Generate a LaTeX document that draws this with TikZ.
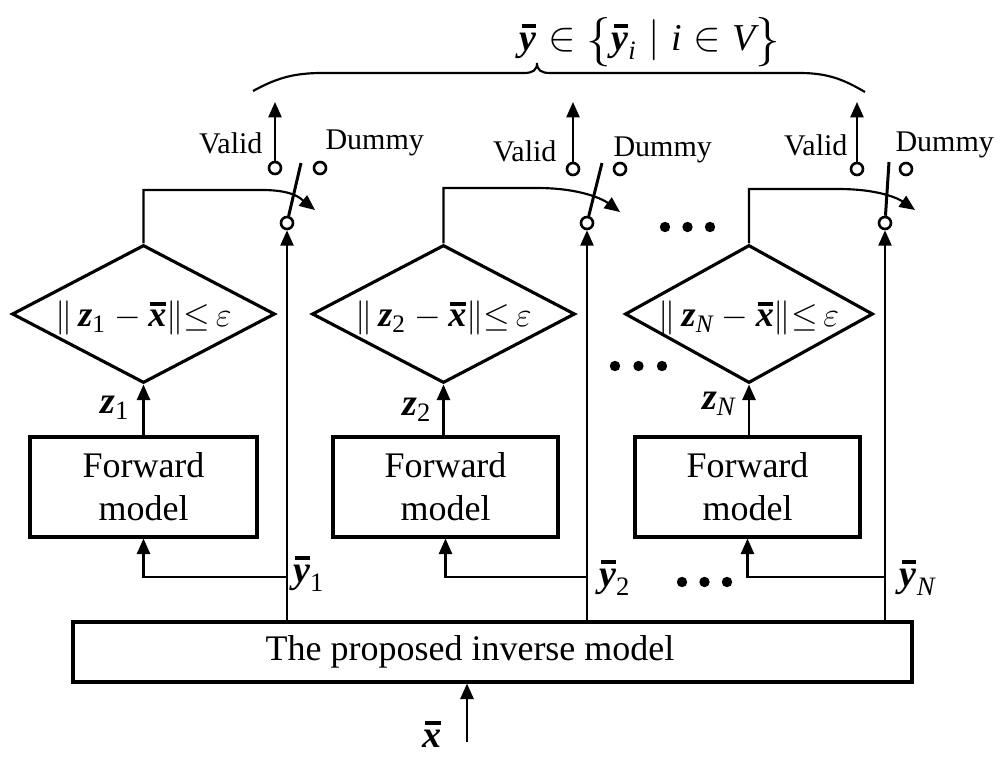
\documentclass[tikz,border=0pt]{standalone}
\usepackage{amsmath}
\usepackage{fontspec}
\setmainfont{Liberation Serif}
\usetikzlibrary{shapes.geometric,arrows.meta}

% bold italic vector letters
\newcommand\bvz{\mbox{\bfseries\itshape z}}
\newcommand\bvx{\mbox{\bfseries\itshape x}}
\newcommand\bvy{\mbox{\bfseries\itshape y}}
% thick bar over a symbol
\newcommand\barred[1]{\mathord{\setbox0=\hbox{$#1$}\vbox{\offinterlineskip\hbox to\wd0{\hskip0.12\wd0\vrule width0.85\wd0 height1.4pt depth0pt\hss}\kern1.6pt\box0}}}
% centred text of zero size, so that a diamond keeps its given size
\newcommand\zerobox[1]{\raisebox{-0.36em}[0pt][0pt]{\makebox[0pt]{#1}}}
% curly brackets a little taller than the text
\newcommand\lcb{\mathopen{\raisebox{-0.12em}{\fontsize{17}{17}\selectfont$\{$}}}
\newcommand\rcb{\mathclose{\raisebox{-0.12em}{\fontsize{17}{17}\selectfont$\}$}}}

\tikzset{
  ln/.style={line width=0.75pt},
  arr/.style={-{Triangle[length=5.4pt,width=4.6pt]}},
  fwd/.style={draw,line width=1.1pt,minimum height={100*0.35pt},align=center,
              font=\fontsize{12.6}{15}\selectfont,inner sep=0pt},
  dm/.style={draw,diamond,line width=1.1pt,minimum height={138*0.35pt},inner sep=0pt,
             font=\fontsize{12.6}{15}\selectfont},
  sw/.style={draw,circle,fill=white,line width=0.9pt,minimum size={12*0.35pt},inner sep=0pt},
  sm/.style={font=\fontsize{10.5}{12}\selectfont,inner sep=0pt},
  mt/.style={font=\fontsize{13.3}{15}\selectfont,inner sep=0pt},
  blade/.style={line width=1.05pt},
}

\begin{document}
\begin{tikzpicture}[x=0.35pt,y=-0.35pt]
\useasboundingbox (0,0) rectangle (1000,761);

% inverse model and its input
\node[draw,line width=1.1pt,minimum width={839*0.35pt},minimum height={60*0.35pt},inner sep=0pt] (inv) at (492.5,652) {};
\node[font=\fontsize{12.6}{15}\selectfont,inner sep=0pt] (invt) at (470,652) {The proposed inverse model};
\coordinate (xin) at (467,742);
\draw[ln,arr] (xin) -- (inv.south -| xin);
\node[mt] (xl) at (432,734) {$\barred{\bvx}$};

% ---------- branch 1 ----------
\node[fwd,minimum width={227*0.35pt}] (fm1) at (143.5,487) {Forward\\model};
\node[dm,minimum width={263*0.35pt}] (dm1) at (143.5,314) {\zerobox{$\|\,\bvz_{\text{1}}-\barred{\bvx}\|{\le}\,\varepsilon$}};
\node[sw] (s1) at (287,223) {};
\node[sw] (v1) at (275,168) {};
\node[sw] (d1) at (320,168) {};
\coordinate (b1) at (301,163);
\coordinate (o1) at (275,102);
\coordinate (k1) at (262,190);
\coordinate (t1) at (315,210);
\coordinate (j1) at (287,577);
\draw[ln,arr] (inv.north -| s1) -- (s1);
\draw[ln,arr] (j1) -| (fm1);
\draw[ln,arr] (fm1) -- (dm1);
\draw[ln,arr] (dm1.north) |- (k1) .. controls +(32,0) and +(-14,-11) .. (t1);
\draw[blade] (s1) -- (b1);
\draw[ln,arr] (v1) -- (o1);
\node[sm,anchor=east] (lv1) at (263,143) {Valid};
\node[sm,anchor=west] (ld1) at (325,143) {Dummy};
\node[mt] (lz1) at (115,408) {$\bvz_{\text{1}}$};
\node[mt] (ly1) at (309,574) {$\barred{\bvy}_{\text{1}}$};

% ---------- branch 2 ----------
\node[fwd,minimum width={225*0.35pt}] (fm2) at (445.5,487) {Forward\\model};
\node[dm,minimum width={263*0.35pt}] (dm2) at (443.5,314) {\zerobox{$\|\,\bvz_{\text{2}}-\barred{\bvx}\|{\le}\,\varepsilon$}};
\node[sw] (s2) at (587,223) {};
\node[sw] (v2) at (573,169) {};
\node[sw] (d2) at (620,169) {};
\coordinate (b2) at (602,163);
\coordinate (o2) at (573,102);
\coordinate (k2) at (537,188);
\coordinate (t2) at (620,212);
\coordinate (j2) at (587,577);
\draw[ln,arr] (inv.north -| s2) -- (s2);
\draw[ln,arr] (j2) -| (fm2);
\draw[ln,arr] (fm2.north -| dm2) -- (dm2);
\draw[ln,arr] (dm2.north) |- (k2) .. controls +(45,0) and +(-16,-12) .. (t2);
\draw[blade] (s2) -- (b2);
\draw[ln,arr] (v2) -- (o2);
\node[sm,anchor=east] (lv2) at (557,151) {Valid};
\node[sm,anchor=west] (ld2) at (613,150) {Dummy};
\node[mt] (lz2) at (417,410) {$\bvz_{\text{2}}$};
\node[mt] (ly2) at (615,578) {$\barred{\bvy}_{\text{2}}$};

% ---------- branch N ----------
\node[fwd,minimum width={225*0.35pt}] (fm3) at (747.5,487) {Forward\\model};
\node[dm,minimum width={248*0.35pt}] (dm3) at (749,314) {\zerobox{$\|\,\bvz_{\textit{N}}-\barred{\bvx}\|{\le}\,\varepsilon$}};
\node[sw] (s3) at (885,223) {};
\node[sw] (v3) at (857,169) {};
\node[sw] (d3) at (906,169) {};
\coordinate (b3) at (889,162);
\coordinate (o3) at (857,102);
\coordinate (k3) at (838,189);
\coordinate (t3) at (915,210);
\coordinate (j3) at (885,577);
\draw[ln,arr] (inv.north -| s3) -- (s3);
\draw[ln,arr] (j3) -| (fm3);
\draw[ln,arr] (fm3.north -| dm3) -- (dm3);
\draw[ln,arr] (dm3.north) |- (k3) .. controls +(42,0) and +(-16,-11) .. (t3);
\draw[blade] (s3) -- (b3);
\draw[ln,arr] (v3) -- (o3);
\node[sm,anchor=east] (lv3) at (848,145) {Valid};
\node[sm,anchor=west] (ld3) at (895,145) {Dummy};
\node[mt] (lz3) at (719,404) {$\bvz_{\textit{N}}$};
\node[mt] (ly3) at (918,578) {$\barred{\bvy}_{\textit{N}}$};

% ellipsis dots between branches
\foreach \x in {665,687.5,710} \fill (\x,227) circle (5.2);
\foreach \x in {615,638.5,662} \fill (\x,366) circle (5.2);
\foreach \x in {682,704.5,727} \fill (\x,582) circle (5.2);

% output brace
\draw[ln] (253,91) .. controls (275,79) and (292,73) .. (322,73) -- (524,73)
  .. controls (533,73) and (537,70) .. (537,63)
  .. controls (537,70) and (541,73) .. (550,73) -- (800,73)
  .. controls (830,73) and (846,81) .. (865,92);
\node[mt,anchor=base] (set) at (650,50) {$\barred{\bvy}\in\lcb\barred{\bvy}_{\textit{i}}\mid \textit{i}\in \textit{V}\rcb$};
\end{tikzpicture}
\end{document}
